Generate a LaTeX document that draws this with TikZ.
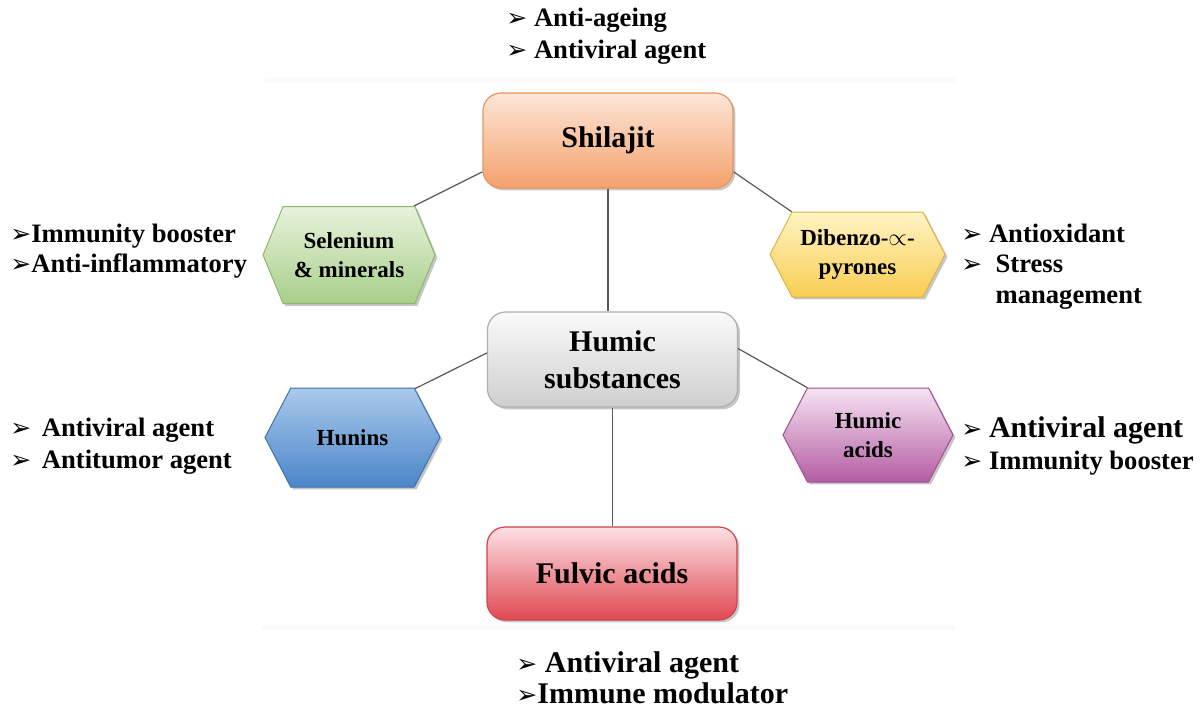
\documentclass[tikz,border=0pt]{standalone}
\usepackage{fontspec}
\setmainfont{Liberation Serif}
\newfontfamily\symfont{DejaVu Sans}
\usetikzlibrary{shapes.symbols,shadows}

\definecolor{orangeTop}{HTML}{FDE6D8}
\definecolor{orangeBot}{HTML}{F4A16C}
\definecolor{orangeLine}{HTML}{E59660}
\definecolor{greenTop}{HTML}{E8F2DC}
\definecolor{greenBot}{HTML}{A8CF8A}
\definecolor{greenLine}{HTML}{8CB86E}
\definecolor{yellowTop}{HTML}{FFF4C4}
\definecolor{yellowBot}{HTML}{F8CD52}
\definecolor{yellowLine}{HTML}{DDB446}
\definecolor{grayTop}{HTML}{FAFAFA}
\definecolor{grayBot}{HTML}{CFCFCF}
\definecolor{grayLine}{HTML}{AFAFAF}
\definecolor{blueTop}{HTML}{AAC9EC}
\definecolor{blueBot}{HTML}{4A86C8}
\definecolor{blueLine}{HTML}{3D72B0}
\definecolor{pinkTop}{HTML}{F6E3F1}
\definecolor{pinkBot}{HTML}{B45CA4}
\definecolor{pinkLine}{HTML}{A0508F}
\definecolor{redTop}{HTML}{FCE0E4}
\definecolor{redBot}{HTML}{E04852}
\definecolor{redLine}{HTML}{D0434C}

\newcommand\arr{{\symfont\fontsize{12.5}{12.5}\selectfont ➢}}

\tikzset{
  card/.style={rounded corners=9pt, minimum width=125pt, minimum height=47.5pt,
    line width=0.6pt, align=center, font=\fontsize{15}{18.5}\selectfont\bfseries,
    drop shadow={opacity=0.45, shadow xshift=1.2pt, shadow yshift=-1.2pt}},
  hexa/.style={shape=signal, signal to=east and west, signal from=nowhere, signal pointer angle=125,
    line width=0.5pt, align=center, font=\fontsize{11.5}{14.5}\selectfont\bfseries,
    drop shadow={opacity=0.45, shadow xshift=1.2pt, shadow yshift=-1.2pt}},
  link/.style={draw=black!65, line width=0.6pt},
  uses/.style={align=left, anchor=west, inner sep=0pt, font=\fontsize{13.3}{15}\selectfont\bfseries},
}

\begin{document}
\begin{tikzpicture}[x=0.5pt,y=-0.5pt]
\useasboundingbox (0,0) rectangle (1203,708);

% faint frame of the figure
\fill [black!2] (265,78) rectangle (955,83);
\fill [black!2] (262,625) rectangle (955,630);

% main boxes
\node [card, top color=orangeTop, bottom color=orangeBot, draw=orangeLine, minimum height=47.5pt] (shil) at (608,140.5) {Shilajit};
\node [card, top color=grayTop, bottom color=grayBot, draw=grayLine] (hum) at (612.5,359.5) {Humic\\substances};
\node [card, top color=redTop, bottom color=redBot, draw=redLine, minimum height=46.5pt] (ful) at (612,573.5) {Fulvic acids};

% side hexagons
\node [hexa, top color=greenTop, bottom color=greenBot, draw=greenLine, minimum width=86pt, minimum height=48.5pt, signal pointer angle=135] (sel) at (349,255) {Selenium\\\& minerals};
\node [hexa, top color=yellowTop, bottom color=yellowBot, draw=yellowLine, minimum width=87.5pt, minimum height=42.5pt] (dib) at (857.5,254.5) {Dibenzo-$\propto$-\\pyrones};
\node [hexa, top color=blueTop, bottom color=blueBot, draw=blueLine, minimum width=87.5pt, minimum height=49.5pt] (hun) at (352.5,437.5) {Hunins};
\node [hexa, top color=pinkTop, bottom color=pinkBot, draw=pinkLine, minimum width=85pt, minimum height=47pt] (hac) at (868,435) {Humic\\acids};

% connectors
\draw [link] (shil.194) -- (sel.37);
\draw [link] (shil.346) -- (dib.147);
\draw [link] (shil.south) -- (shil.south |- hum.north);
\draw [link] (hum.177) -- (hun.38);
\draw [link] (hum.5) -- (hac.142);
\draw [link] (hum.south) -- (hum.south |- ful.north);

% properties
\node [uses, font=\fontsize{13.3}{16}\selectfont\bfseries] (shilUses) at (506,36) {\arr\ Anti-ageing\\\arr\ Antiviral agent};
\node [uses] (selUses) at (10,251) {\arr Immunity booster\\\arr Anti-inflammatory};
\node [uses, font=\fontsize{13.3}{15.25}\selectfont\bfseries] (dibUses) at (961,266.5) {\arr\ Antioxidant\\\arr\hspace{0.5em}Stress\\\phantom{\arr}\hspace{0.5em}management};
\node [uses, font=\fontsize{13.3}{16}\selectfont\bfseries] (hunUses) at (10,446) {\arr\hspace{0.4em}Antiviral agent\\\arr\hspace{0.4em}Antitumor agent};
\node [uses, font=\fontsize{13.3}{16}\selectfont\bfseries] (hacUses) at (961,446) {\arr\ {\fontsize{15}{16}\selectfont Antiviral agent}\\\arr\ Immunity booster};
\node [uses, font=\fontsize{15}{15.5}\selectfont\bfseries] (fulUses) at (516,677.5) {\arr\ Antiviral agent\\\arr Immune modulator};

\end{tikzpicture}
\end{document}
